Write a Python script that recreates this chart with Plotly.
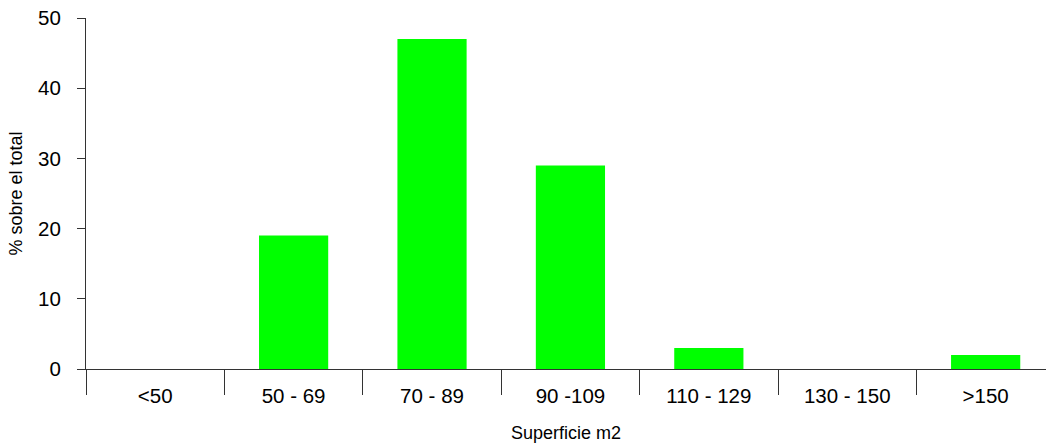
import plotly.graph_objects as go

categories = ["<50", "50 - 69", "70 - 89", "90 -109", "110 - 129", "130 - 150", ">150"]
values = [0, 19, 47, 29, 3, 0, 2]
y_ticks = [0, 10, 20, 30, 40, 50]

FONT = "Liberation Sans, Arial, sans-serif"
AXIS_COLOR = "#333333"

fig = go.Figure()
fig.add_trace(go.Bar(
    x=categories, y=values,
    marker=dict(color="#00FF00", line=dict(width=0)),
    xaxis="x", yaxis="y", hoverinfo="x+y", showlegend=False,
))
# invisible twin trace so the separator axis gets its categories
fig.add_trace(go.Bar(
    x=categories, y=values, opacity=0,
    xaxis="x2", yaxis="y", hoverinfo="skip", showlegend=False,
))

x_range = [-0.5, 6.436]

fig.update_layout(
    width=1046, height=443,
    margin=dict(l=86, r=0, t=18, b=74, autoexpand=False),
    paper_bgcolor="white", plot_bgcolor="white",
    bargap=0.5,
    font=dict(family=FONT, color="black"),
    xaxis=dict(
        type="category", categoryorder="array", categoryarray=categories,
        range=x_range, automargin=False,
        showline=True, linecolor=AXIS_COLOR, linewidth=1,
        ticks="", showgrid=False, zeroline=False,
        tickfont=dict(size=20.5, family=FONT),
        ticklabelstandoff=8, ticklabeloverflow="allow",
        title=dict(text="Superficie m2", font=dict(size=18, family=FONT), standoff=21),
    ),
    xaxis2=dict(
        type="category", categoryorder="array", categoryarray=categories,
        range=x_range, overlaying="x", side="bottom", automargin=False,
        ticks="outside", tickson="boundaries", ticklen=25, tickwidth=1,
        tickcolor=AXIS_COLOR, showticklabels=False, showgrid=False,
        showline=False, zeroline=False,
    ),
    yaxis=dict(
        range=[0, 50], tickvals=y_ticks, automargin=False,
        showline=True, linecolor=AXIS_COLOR, linewidth=1,
        ticks="outside", ticklen=8, tickcolor=AXIS_COLOR, tickwidth=1,
        showgrid=False, zeroline=False,
        tickfont=dict(size=20.5, family=FONT),
        ticklabelstandoff=12, ticklabeloverflow="allow",
        title=dict(text="% sobre el total", font=dict(size=18, family=FONT), standoff=10),
    ),
    yaxis2=dict(
        range=[0, 50], tickvals=y_ticks, overlaying="y", side="left",
        automargin=False,
        ticks="inside", ticklen=8, tickcolor=AXIS_COLOR, tickwidth=1,
        showticklabels=False, showgrid=False, showline=False, zeroline=False,
    ),
)

# remove the page's default 8px body margin so the figure fills the window
fig.write_html(
    "out.html",
    config={"displayModeBar": False},
    post_script="document.body.style.margin='0';",
)
